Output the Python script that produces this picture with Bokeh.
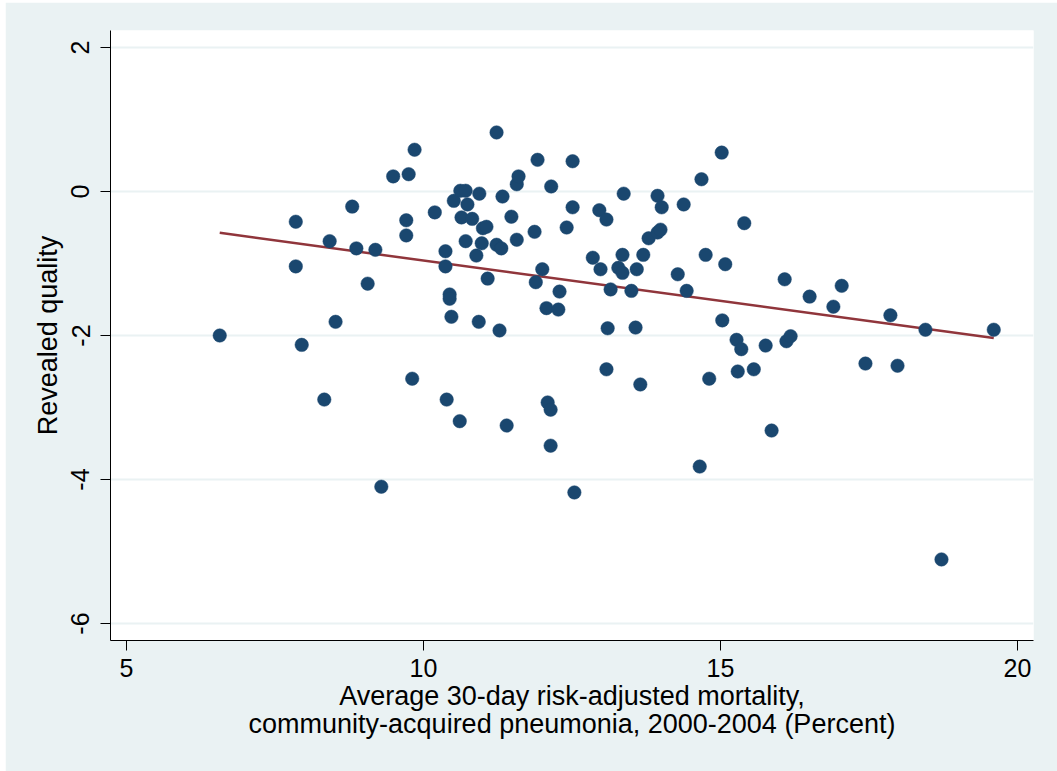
import numpy as np
from bokeh.plotting import figure
from bokeh.models import Range1d, FixedTicker, ColumnDataSource, PrintfTickFormatter
from bokeh.embed import file_html
from bokeh.resources import INLINE

# Average 30-day risk-adjusted mortality (percent)
mortality = [
    6.57, 7.85, 7.85, 7.95, 8.33, 8.42, 8.52, 8.80, 8.87, 9.06,
    9.19, 9.29, 9.49, 9.71, 9.71, 9.75, 9.81, 9.85, 10.19, 10.37,
    10.37, 10.44, 10.44, 10.47, 10.39, 10.51, 10.62, 10.71, 10.61, 10.64,
    10.74, 10.71, 10.82, 10.89, 10.93, 10.94, 10.98, 11.00, 11.06, 11.08,
    11.23, 11.23, 11.28, 11.31, 11.33, 11.40, 11.48, 11.57, 11.57, 11.60,
    11.87, 11.89, 11.92, 12.00, 12.07, 12.09, 12.14, 12.14, 12.15, 12.27,
    12.29, 12.41, 12.51, 12.51, 12.54, 12.85, 12.96, 12.98, 13.08, 13.08,
    13.10, 13.15, 13.28, 13.35, 13.35, 13.37, 13.50, 13.57, 13.59, 13.65,
    13.70, 13.79, 13.94, 13.99, 13.94, 14.01, 14.28, 14.38, 14.43, 14.65,
    14.68, 14.75, 14.81, 15.02, 15.03, 15.08, 15.27, 15.29, 15.35, 15.40,
    15.56, 15.76, 15.86, 16.08, 16.11, 16.18, 16.50, 16.90, 17.04, 17.44,
    17.86, 17.98, 18.45, 18.72, 19.60,
]
# Revealed quality
quality = [
    -2.00, -0.42, -1.04, -2.13, -2.89, -0.69, -1.81, -0.21, -0.79, -1.28,
    -0.81, -4.10, 0.21, -0.40, -0.61, 0.24, -2.60, 0.58, -0.29, -0.83,
    -1.04, -1.43, -1.49, -1.74, -2.89, -0.13, 0.01, 0.01, -3.19, -0.36,
    -0.18, -0.69, -0.38, -0.89, -1.81, -0.03, -0.72, -0.51, -0.49, -1.21,
    0.82, -0.74, -1.93, -0.79, -0.07, -3.25, -0.35, -0.67, 0.10, 0.21,
    -0.56, -1.26, 0.44, -1.08, -1.62, -2.93, -3.03, -3.53, 0.07, -1.64,
    -1.39, -0.50, 0.42, -0.22, -4.18, -0.92, -0.26, -1.08, -0.39, -2.47,
    -1.90, -1.36, -1.06, -1.13, -0.88, -0.03, -1.38, -1.89, -1.08, -2.68,
    -0.88, -0.65, -0.57, -0.53, -0.06, -0.22, -1.15, -0.18, -1.38, -3.82,
    0.17, -0.88, -2.60, 0.54, -1.79, -1.01, -2.06, -2.50, -2.19, -0.44,
    -2.47, -2.14, -3.32, -1.22, -2.08, -2.01, -1.46, -1.60, -1.31, -2.39,
    -1.72, -2.42, -1.92, -5.11, -1.92,
]

x_ticks = [5, 10, 15, 20]
y_ticks = [2, 0, -2, -4, -6]

x_title = "Average 30-day risk-adjusted mortality,\ncommunity-acquired pneumonia, 2000-2004 (Percent)"
y_title = "Revealed quality"

BG = "#EAF2F3"
NAVY = "#1A476F"
MAROON = "#90353B"
FONT = "Liberation Sans"

# linear fit
xs = np.array(mortality)
ys = np.array(quality)
slope, intercept = np.polyfit(xs, ys, 1)
fit_x = np.array([xs.min(), xs.max()])
fit_y = intercept + slope * fit_x

p = figure(width=1052, height=769, output_backend="svg", toolbar_location=None,
           x_range=Range1d(4.731, 20.269), y_range=Range1d(-6.236, 2.236),
           min_border_left=105, min_border_right=24, min_border_top=28,
           min_border_bottom=131)
p.margin = (2, 0, 0, 5)
p.border_fill_color = BG
p.background_fill_color = "white"
p.outline_line_color = None

p.xgrid.visible = False
p.ygrid.ticker = FixedTicker(ticks=y_ticks)
p.ygrid.grid_line_color = BG
p.ygrid.grid_line_width = 2

p.xaxis.ticker = FixedTicker(ticks=x_ticks)
p.yaxis.ticker = FixedTicker(ticks=y_ticks)
for ax in (p.xaxis[0], p.yaxis[0]):
    ax.formatter = PrintfTickFormatter(format="%d")
    ax.axis_line_color = "black"
    ax.axis_line_width = 1
    ax.major_tick_line_color = "black"
    ax.major_tick_in = 0
    ax.major_tick_out = 10
    ax.minor_tick_line_color = None
    ax.major_label_text_font = FONT
    ax.major_label_text_font_size = "25px"
    ax.major_label_text_color = "black"
    ax.axis_label_text_font = FONT
    ax.axis_label_text_font_size = "27px"
    ax.axis_label_text_font_style = "normal"
    ax.axis_label_text_color = "black"
    ax.axis_label_text_line_height = 0.95

p.xaxis.major_label_standoff = 8
p.xaxis.axis_label_standoff = 1
p.yaxis.major_label_standoff = 11
p.yaxis.axis_label_standoff = 6

p.yaxis.major_label_orientation = "vertical"
p.xaxis.axis_label = x_title
p.yaxis.axis_label = y_title

src = ColumnDataSource(dict(x=mortality, y=quality))
p.line(fit_x, fit_y, line_color=MAROON, line_width=2.5)
p.scatter("x", "y", source=src, size=13.5, fill_color=NAVY, line_color=NAVY,
          line_width=0.5)

open("out.html", "w").write(file_html(p, INLINE))
